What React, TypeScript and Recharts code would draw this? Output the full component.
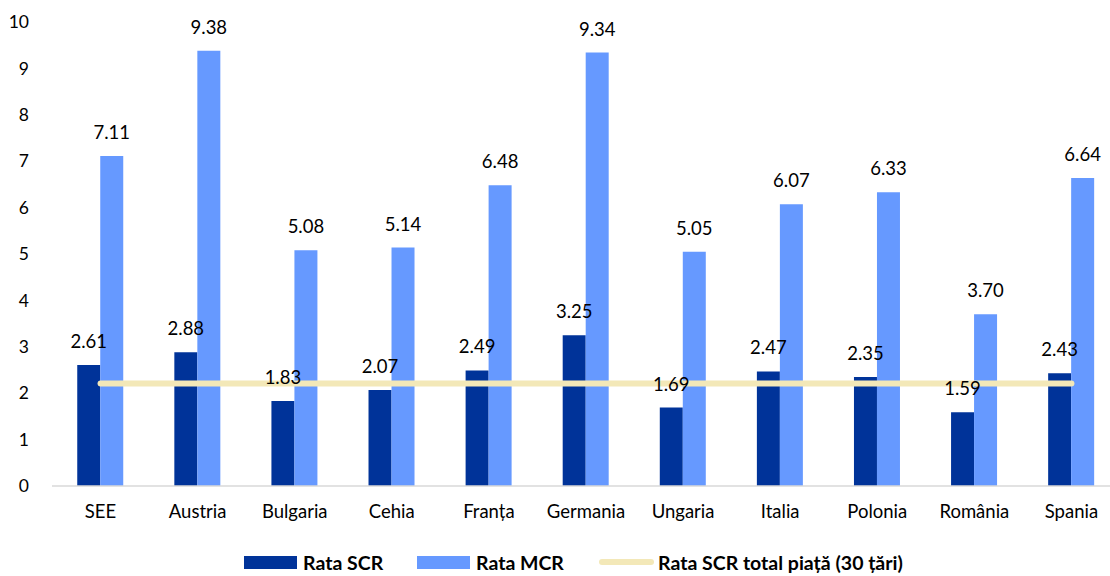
import React from 'react';
import { ComposedChart, Bar, Line, XAxis, YAxis, Legend, LabelList } from 'recharts';

const categories = ['SEE', 'Austria', 'Bulgaria', 'Cehia', 'Franța', 'Germania', 'Ungaria', 'Italia', 'Polonia', 'România', 'Spania'];
const scrValues = [2.61, 2.88, 1.83, 2.07, 2.49, 3.25, 1.69, 2.47, 2.35, 1.59, 2.43];
const mcrValues = [7.11, 9.38, 5.08, 5.14, 6.48, 9.34, 5.05, 6.07, 6.33, 3.7, 6.64];
const totalValues = [2.21, 2.21, 2.21, 2.21, 2.21, 2.21, 2.21, 2.21, 2.21, 2.21, 2.21];
const yTicks = [0, 1, 2, 3, 4, 5, 6, 7, 8, 9, 10];

const data = categories.map((c, i) => ({
  name: c,
  scr: scrValues[i],
  mcr: mcrValues[i],
  total: totalValues[i],
}));

const DARK = '#003399';
const LIGHT = '#6699FF';
const LINE = '#F3E8B8';
const FONT = 'Lato, Calibri, "Noto Sans", sans-serif';

const fmt = (v: any) => Number(v).toFixed(2);

const itemStyle = (left: number): React.CSSProperties => ({
  position: 'absolute',
  left,
  top: 14,
  height: 24,
  display: 'flex',
  alignItems: 'center',
  whiteSpace: 'nowrap',
});

const LegendContent = () => (
  <div
    style={{
      position: 'relative',
      height: 40,
      fontFamily: FONT,
      fontWeight: 700,
      fontSize: 19.5,
      color: '#000',
    }}
  >
    <div style={itemStyle(244)}>
      <span style={{ display: 'inline-block', width: 53, height: 13, background: DARK, marginRight: 6 }} />
      <span>Rata SCR</span>
    </div>
    <div style={itemStyle(417)}>
      <span style={{ display: 'inline-block', width: 53, height: 13, background: LIGHT, marginRight: 6 }} />
      <span>Rata MCR</span>
    </div>
    <div style={itemStyle(599)}>
      <span style={{ display: 'inline-block', width: 55, height: 6, borderRadius: 3, background: LINE, marginRight: 4 }} />
      <span>Rata SCR total piață (30 țări)</span>
    </div>
  </div>
);

export default function App() {
  return (
    <div style={{ position: 'absolute', top: 0, left: 0, width: 1110, height: 576, overflow: 'hidden', background: '#fff' }}>
      <ComposedChart
        width={1120}
        height={576}
        data={data}
        margin={{ top: 22, right: 0, left: 0, bottom: 0 }}
        barGap={0}
        barCategoryGap="26%"
        style={{ fontFamily: FONT }}
      >
        <XAxis
          dataKey="name"
          height={50}
          tickLine={false}
          axisLine={{ stroke: '#D9D9D9', strokeWidth: 1.5 }}
          tick={{ fill: '#000', fontSize: 18.5, fontFamily: FONT }}
          tickMargin={13}
          interval={0}
        />
        <YAxis
          width={52}
          domain={[0, 10]}
          ticks={yTicks}
          tickLine={false}
          axisLine={false}
          tick={{ fill: '#000', fontSize: 17.5, fontFamily: FONT }}
          tickMargin={17}
          interval={0}
        />
        <Legend
          verticalAlign="bottom"
          height={40}
          content={<LegendContent />}
          wrapperStyle={{ left: 0, width: 1110 }}
        />
        <Bar dataKey="scr" name="Rata SCR" fill={DARK} isAnimationActive={false}>
          <LabelList dataKey="scr" position="top" offset={17} formatter={fmt} fill="#000" fontSize={18.5} fontFamily={FONT} />
        </Bar>
        <Bar dataKey="mcr" name="Rata MCR" fill={LIGHT} isAnimationActive={false}>
          <LabelList dataKey="mcr" position="top" offset={17} formatter={fmt} fill="#000" fontSize={18.5} fontFamily={FONT} />
        </Bar>
        <Line
          dataKey="total"
          name="Rata SCR total piață (30 țări)"
          stroke={LINE}
          strokeWidth={6}
          strokeLinecap="round"
          dot={false}
          activeDot={false}
          isAnimationActive={false}
        />
      </ComposedChart>
    </div>
  );
}
